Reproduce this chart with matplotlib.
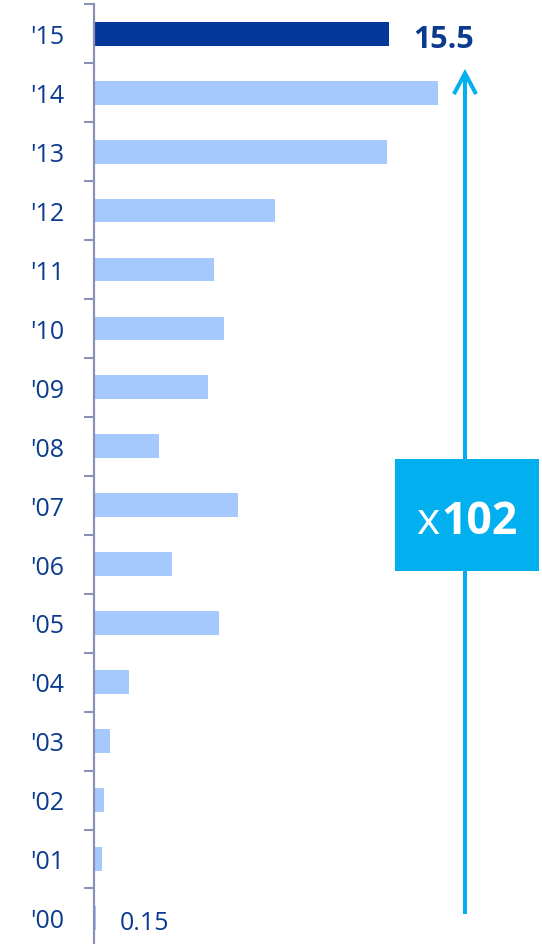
import matplotlib
matplotlib.use("Agg")
import matplotlib.pyplot as plt
from matplotlib.patches import FancyArrowPatch, Rectangle
from matplotlib import transforms

plt.rcParams['font.family'] = ['Open Sans', 'DejaVu Sans']

# ---- data ----
years = ["'00", "'01", "'02", "'03", "'04", "'05", "'06", "'07",
         "'08", "'09", "'10", "'11", "'12", "'13", "'14", "'15"]
values = [0.15, 0.45, 0.57, 0.85, 1.88, 6.56, 4.13, 7.57,
          3.43, 6.02, 6.86, 6.33, 9.50, 15.38, 18.07, 15.5]
first_label = "0.15"
last_label = "15.5"
growth_label_x = "x"
growth_label_num = "102"

# ---- style ----
W, H = 542, 945
NAVY = '#05379A'
LIGHT = '#A5C8FD'
TEXT = '#0B3B8E'
AXIS = '#8B90B7'
CYAN = '#02AFEF'

fig = plt.figure(figsize=(W / 100, H / 100), dpi=100)
axis_px = 93.5
px_per_unit = 19.08
cat_px = 58.95
top_center_px = 34.7
top_px = top_center_px - 0.5 * cat_px
bot_px = top_center_px + 15.5 * cat_px
ax = fig.add_axes([axis_px / W, 1 - bot_px / H, 1 - axis_px / W, (bot_px - top_px) / H])
ax.set_xlim(0, (W - axis_px) / px_per_unit)
ax.set_ylim(-0.5, len(years) - 0.5)

ypos = list(range(len(years)))
colors = [LIGHT] * (len(years) - 1) + [NAVY]
ax.barh(ypos, values, height=0.405, color=colors, zorder=2)

for s in ['top', 'right', 'bottom']:
    ax.spines[s].set_visible(False)
ax.spines['left'].set_color(AXIS)
ax.spines['left'].set_linewidth(1.6)
ax.set_xticks([])
ax.set_yticks([i + 0.5 for i in ypos])
ax.set_yticklabels([])
ax.tick_params(axis='y', direction='out', length=7, width=1.5, color=AXIS)

# category labels
lab_tr = transforms.blended_transform_factory(fig.transFigure, ax.transData)
for i, lab in enumerate(years):
    ax.text(64 / W, i - 9.3 / cat_px, lab, transform=lab_tr, ha='right',
            va='baseline', fontsize=18, color=TEXT)

# value labels
ax.annotate(first_label, xy=(values[0], 0), xytext=(16.5, -11.5 * 0.72),
            textcoords='offset points', ha='left', va='baseline',
            fontsize=18, color=TEXT)
ax.annotate(last_label, xy=(values[-1], len(years) - 1), xytext=(17, -13.3 * 0.72),
            textcoords='offset points', ha='left', va='baseline',
            fontsize=22, fontweight='bold', color=TEXT)

# growth arrow and box
ax_x = 465 / W
arrow = FancyArrowPatch(posA=(ax_x, 1 - 915 / H), posB=(ax_x, 1 - 70 / H),
                        transform=fig.transFigure,
                        arrowstyle='->,head_length=15,head_width=8',
                        mutation_scale=1, lw=2.9, color=CYAN,
                        shrinkA=0, shrinkB=0, capstyle='butt', joinstyle='miter')
fig.patches.append(arrow)
box = Rectangle((395 / W, 1 - 572 / H), 144 / W, 112 / H,
                transform=fig.transFigure, facecolor=CYAN, edgecolor='none', zorder=3)
fig.patches.append(box)
fig.text(439 / W, 1 - 534 / H, growth_label_x, ha='right', va='baseline',
         fontsize=32, color='white', zorder=4)
fig.text(441 / W, 1 - 534 / H, growth_label_num, ha='left', va='baseline',
         fontsize=32, fontweight='bold', color='white', zorder=4)

fig.savefig('out.png', dpi=100)
